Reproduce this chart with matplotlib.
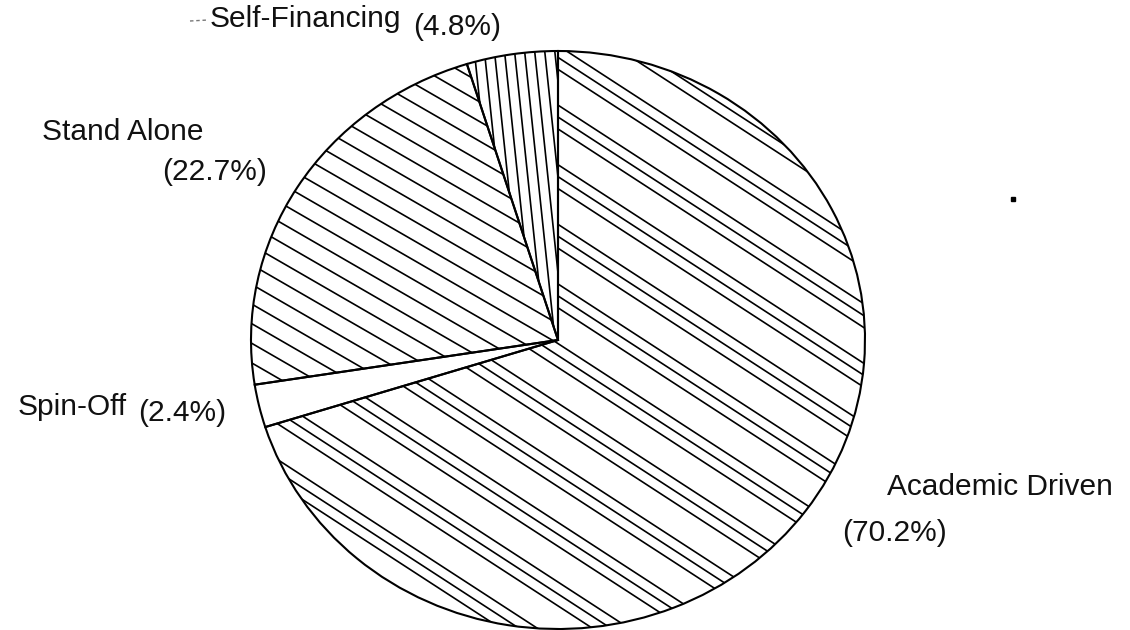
import matplotlib.pyplot as plt
import numpy as np

labels = ["Academic Driven", "Spin-Off", "Stand Alone", "Self-Financing"]
shares = [70.2, 2.4, 22.7, 4.8]

# pie geometry in pixels (slightly elliptical, as in the scan)
W, H = 1130, 630
cx, cy, rx, ry = 558, 340, 307, 289

# hatch style per slice: (angle in deg, line offsets in a group, period) or None
hatches = [
    (33, [0, 10, 20], 50),
    None,
    (30, [0], 17),
    (84, [0], 10),
]

plt.rcParams["font.family"] = ["Liberation Sans", "DejaVu Sans"]

fig = plt.figure(figsize=(W / 100, H / 100), dpi=100)
bg = fig.add_axes([0, 0, 1, 1])
bg.set_xlim(0, W)
bg.set_ylim(H, 0)
bg.axis("off")

ax = fig.add_axes([(cx - rx) / W, (H - cy - ry) / H, 2 * rx / W, 2 * ry / H])
wedges, _ = ax.pie(
    shares,
    startangle=90,
    counterclock=False,
    radius=1,
    wedgeprops=dict(facecolor="none", edgecolor="black", linewidth=1.5, zorder=3),
)
ax.set_aspect("auto")
ax.set_xlim(-1, 1)
ax.set_ylim(-1, 1)
ax.axis("off")


def to_data(px, py):
    return (np.asarray(px) - cx) / rx, (cy - np.asarray(py)) / ry


def hatch(wedge, angle, gaps, period):
    a = np.radians(angle)
    d = np.array([np.cos(a), np.sin(a)])
    n = np.array([-np.sin(a), np.cos(a)])
    kmax = int(360 / period) + 2
    for k in range(-kmax, kmax + 1):
        for g in gaps:
            p = np.array([cx, cy]) + (k * period + g + 3) * n
            p1, p2 = p - 800 * d, p + 800 * d
            xs, ys = to_data([p1[0], p2[0]], [p1[1], p2[1]])
            line, = ax.plot(xs, ys, color="black", lw=1.2, zorder=2)
            line.set_clip_path(wedge)


for w, h in zip(wedges, hatches):
    if h is not None:
        hatch(w, *h)

font = dict(fontsize=21.5, color="#111111", va="center")
pct = [f"({v}%)" for v in shares]

# Academic Driven
bg.text(887, 487, labels[0], ha="left", **font)
bg.text(842, 533, pct[0], ha="left", **font)
# Spin-Off
bg.text(127, 407, labels[1], ha="right", **font)
bg.text(226, 413, pct[1], ha="right", **font)
# Stand Alone
bg.text(42, 132, labels[2], ha="left", **font)
bg.text(162, 172, pct[2], ha="left", **font)
# Self-Financing
bg.text(401, 19, labels[3], ha="right", **font)
bg.text(413, 27, pct[3], ha="left", **font)
# faint leader dashes from the scan
bg.plot([190, 208], [21, 20], color="#777777", lw=1.0, ls=(0, (2.5, 2)))

bg.plot(1013, 199, "s", ms=2.5, color="black")

fig.savefig("out.png", dpi=100, facecolor="white")
